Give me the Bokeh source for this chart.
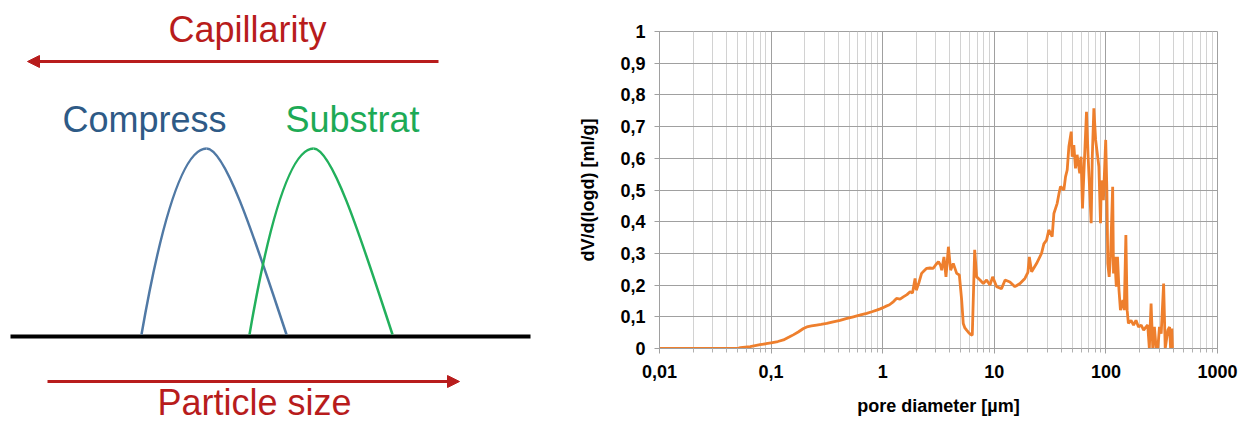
from bokeh.plotting import figure
from bokeh.layouts import row
from bokeh.models import Range1d, FixedTicker, Arrow, NormalHead, CustomJSTickFormatter, Label
from bokeh.embed import file_html
from bokeh.resources import INLINE

# ---------------- schematic (left) data, in picture units ----------------
# each bell: left foot, peak, right foot (x) ; common foot level and peak height
compress_bell = [141, 206, 286]
substrat_bell = [249, 313, 392]
foot_y = 334
peak_y = 148
baseline_x = [10, 530]
texts = ["Capillarity", "Compress", "Substrat", "Particle size"]

# ---------------- pore size distribution (right) data ----------------
pore_d = [0.01, 0.02, 0.05, 0.053, 0.065, 0.0796, 0.09, 0.1, 0.115, 0.129, 0.145, 0.158, 0.175,
          0.195, 0.209, 0.23, 0.256, 0.28, 0.315, 0.36, 0.415, 0.47, 0.546, 0.62, 0.719, 0.8,
          0.883, 0.95, 1.05, 1.15, 1.25, 1.33, 1.43, 1.53, 1.65, 1.76, 1.85, 1.95, 2.0, 2.1,
          2.23, 2.35, 2.48, 2.65, 2.84, 3.0, 3.16, 3.3, 3.38, 3.54, 3.69, 3.88, 4.06, 4.29,
          4.45, 4.6, 4.86, 5.1, 5.27, 5.45, 5.65, 5.9, 6.14, 6.35, 6.67, 6.95, 7.45, 7.97,
          8.53, 9.14, 9.66, 10.5, 11.6, 12.5, 13.8, 15.3, 17.0, 18.8, 20.0, 20.6, 21.6, 23.9,
          26.5, 27.8, 29.4, 30.8, 33.0, 34.2, 36.6, 38.0, 39.2, 42.0, 43.5, 45.0, 46.6, 48.9,
          49.9, 51.6, 53.4, 55.2, 58.3, 59.9, 61.7, 63.5, 67.0, 69.3, 73.8, 75.5, 78.0, 80.9,
          86.5, 89.5, 91.0, 92.6, 95.0, 99.6, 102, 104, 107, 110, 115, 117, 120, 124, 127,
          131, 135, 142, 146, 151, 155, 159, 168, 177, 186, 196, 207, 218, 229, 237, 245,
          254, 263, 272, 282, 292, 302, 313, 329, 340, 359, 372, 380, 390, 395]
pore_v = [0, 0, 0, 0.003, 0.006, 0.012, 0.015, 0.018, 0.022, 0.027, 0.036, 0.043, 0.052,
          0.063, 0.068, 0.071, 0.074, 0.076, 0.079, 0.084, 0.089, 0.094, 0.1, 0.105, 0.111, 0.116,
          0.121, 0.125, 0.132, 0.138, 0.148, 0.158, 0.156, 0.163, 0.17, 0.179, 0.175, 0.221, 0.184, 0.205,
          0.237, 0.245, 0.253, 0.254, 0.253, 0.265, 0.274, 0.262, 0.247, 0.289, 0.226, 0.321, 0.247, 0.268,
          0.252, 0.237, 0.232, 0.153, 0.079, 0.065, 0.058, 0.05, 0.044, 0.042, 0.311, 0.226, 0.216, 0.205,
          0.216, 0.2, 0.226, 0.195, 0.189, 0.216, 0.21, 0.195, 0.205, 0.221, 0.24, 0.289, 0.242, 0.268,
          0.3, 0.33, 0.342, 0.374, 0.353, 0.426, 0.458, 0.489, 0.511, 0.5, 0.542, 0.563, 0.637, 0.684,
          0.605, 0.642, 0.568, 0.611, 0.553, 0.605, 0.442, 0.553, 0.747, 0.605, 0.395, 0.605, 0.758, 0.658,
          0.574, 0.395, 0.53, 0.511, 0.468, 0.658, 0.5, 0.268, 0.226, 0.289, 0.51, 0.237, 0.289, 0.195, 0.289,
          0.184, 0.121, 0.153, 0.121, 0.358, 0.121, 0.079, 0.089, 0.074, 0.089, 0.068, 0.074, 0.058, 0.068, 0.074, 0.0,
          0.142, 0.0, 0.068, 0.0, 0.0, 0.068, 0.047, 0.205, 0.0, 0.058, 0.068, 0.0, 0.063, 0.0]
x_ticks = [0.01, 0.1, 1, 10, 100, 1000]
y_ticks = [0, 0.1, 0.2, 0.3, 0.4, 0.5, 0.6, 0.7, 0.8, 0.9, 1]

RED = "#B81C1C"
FONT = "Liberation Sans"
H = 425
W1, W2 = 560, 680

# ---------------- left figure ----------------
p1 = figure(width=W1, height=H, x_range=Range1d(0, W1), y_range=Range1d(H, 0),
            x_axis_location=None, y_axis_location=None, output_backend="svg",
            toolbar_location=None, min_border=0)
p1.frame_align = False
p1.grid.visible = False
p1.outline_line_color = None

p1.line(x=baseline_x, y=[336, 336], line_width=4, color="black")


def bell(p, b, color):
    x0, xp, x1 = b
    cx = (x0 + xp) / 2.0
    p.bezier(x0=[x0], y0=[foot_y], x1=[xp], y1=[peak_y],
             cx0=[x0 + 2.0 / 3.0 * (cx - x0)], cy0=[foot_y + 2.0 / 3.0 * (peak_y - foot_y)],
             cx1=[xp + 2.0 / 3.0 * (cx - xp)], cy1=[peak_y],
             line_color=color, line_width=2.5)
    span = x1 - xp
    p.bezier(x0=[xp], y0=[peak_y], x1=[x1], y1=[foot_y],
             cx0=[xp + 0.25 * span], cy0=[peak_y],
             cx1=[xp + 0.65 * span], cy1=[peak_y + 0.55 * (foot_y - peak_y)],
             line_color=color, line_width=2.5)


bell(p1, compress_bell, "#5079A5")
bell(p1, substrat_bell, "#22B05C")

p1.add_layout(Arrow(end=NormalHead(size=12, fill_color=RED, line_color=RED),
                    x_start=438, y_start=61, x_end=27, y_end=61,
                    line_color=RED, line_width=3))
p1.add_layout(Arrow(end=NormalHead(size=12, fill_color=RED, line_color=RED),
                    x_start=47, y_start=381, x_end=459, y_end=381,
                    line_color=RED, line_width=3))

p1.add_layout(Label(x=247, y=29, text=texts[0], text_align="center", text_baseline="alphabetic",
                    text_font=FONT, text_font_size="36px", text_color=RED))
p1.add_layout(Label(x=62, y=119, text=texts[1], text_align="left", text_baseline="alphabetic",
                    text_font=FONT, text_font_size="36px", text_color="#2E5A86"))
p1.add_layout(Label(x=285, y=119, text=texts[2], text_align="left", text_baseline="alphabetic",
                    text_font=FONT, text_font_size="36px", text_color="#1DAA56"))
p1.add_layout(Label(x=254, y=402, text=texts[3], text_align="center", text_baseline="alphabetic",
                    text_font=FONT, text_font_size="36px", text_color=RED))

# ---------------- right figure ----------------
p2 = figure(width=W2, height=H, x_axis_type="log",
            x_range=Range1d(0.01, 1000), y_range=Range1d(0, 1),
            output_backend="svg", toolbar_location=None,
            min_border_left=659 - W1, min_border_right=W1 + W2 - 1217,
            min_border_top=31, min_border_bottom=H - 348)
p2.frame_align = False
p2.line(x=pore_d, y=pore_v, line_width=2.8, color="#EE7F2D")

minor = [m * 10.0 ** k for k in range(-2, 3) for m in range(2, 10)]
p2.xaxis.ticker = FixedTicker(ticks=x_ticks, minor_ticks=minor)
p2.yaxis.ticker = FixedTicker(ticks=y_ticks)
fmt = "return tick.toString().replace('.', ',');"
p2.xaxis.formatter = CustomJSTickFormatter(code=fmt)
p2.yaxis.formatter = CustomJSTickFormatter(code=fmt)

p2.xgrid.grid_line_color = "#a0a0a0"
p2.xgrid.minor_grid_line_color = "#d2d2d2"
p2.ygrid.grid_line_color = "#a0a0a0"
p2.outline_line_color = "#a0a0a0"

for ax in (p2.xaxis, p2.yaxis):
    ax.axis_line_color = "#a0a0a0"
    ax.major_tick_line_color = "#a0a0a0"
    ax.major_tick_out = 5
    ax.major_tick_in = 0
    ax.major_label_text_font = FONT
    ax.major_label_text_font_style = "bold"
    ax.major_label_text_font_size = "18px"
    ax.major_label_text_color = "black"
    ax.axis_label_text_font = FONT
    ax.axis_label_text_font_style = "bold"
    ax.axis_label_text_font_size = "18px"
    ax.axis_label_text_color = "black"

p2.xaxis.minor_tick_line_color = "#b0b0b0"
p2.xaxis.minor_tick_out = 4
p2.xaxis.minor_tick_in = 0
p2.yaxis.minor_tick_line_color = None
p2.xaxis.major_label_standoff = 11
p2.yaxis.major_label_standoff = 9
p2.xaxis.axis_label = "pore diameter [µm]"
p2.yaxis.axis_label = "dV/d(logd) [ml/g]"
p2.xaxis.axis_label_standoff = 15
p2.yaxis.axis_label_standoff = 19

layout = row(p1, p2)
open("out.html", "w").write(file_html(layout, INLINE))
